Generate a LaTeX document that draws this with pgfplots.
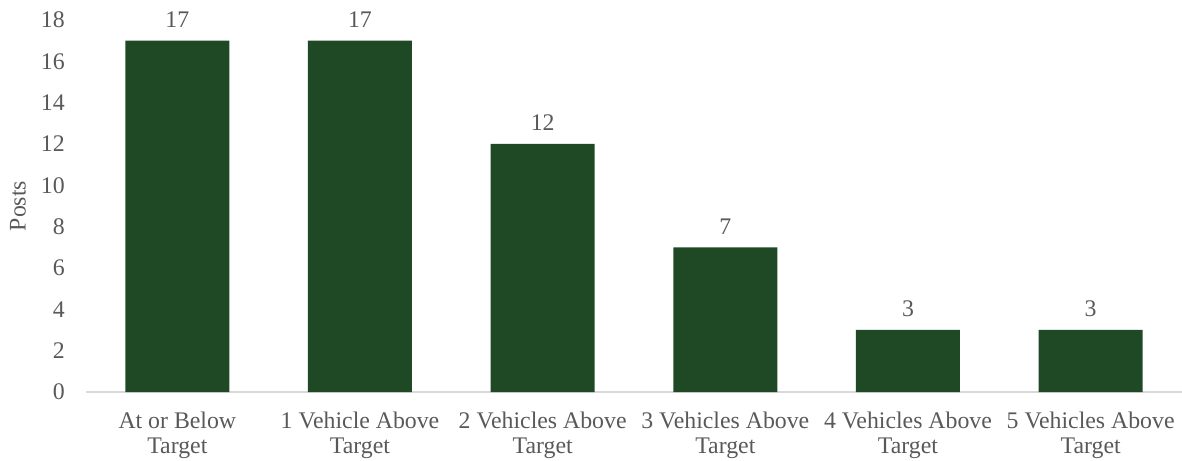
\documentclass[border=0pt]{standalone}
\usepackage{pgfplots}
\pgfplotsset{compat=1.18}
\usepackage{fontspec}
\setmainfont{Liberation Serif}
\definecolor{barc}{HTML}{1F4925}
\definecolor{txt}{HTML}{595959}
\definecolor{axl}{HTML}{D9D9D9}
\begin{document}
\begin{tikzpicture}
\path[use as bounding box] (-86pt,-68pt) rectangle (1096pt,392pt);
\begin{axis}[
  at={(0,0)}, anchor=south west,
  scale only axis, width=1096pt, height=372pt,
  xmin=-0.5, xmax=5.5, ymin=0, ymax=18,
  clip=false,
  axis lines=left,
  x axis line style={-, draw=axl, line width=1.3pt},
  y axis line style={draw=none},
  major tick length=0pt,
  ytick={0,2,...,18},
  xtick=data,
  xticklabels={{At or Below\\Target},{1 Vehicle Above\\Target},{2 Vehicles Above\\Target},{3 Vehicles Above\\Target},{4 Vehicles Above\\Target},{5 Vehicles Above\\Target}},
  /pgf/number format/assume math mode=true,
  ticklabel style={font=\fontsize{23.8}{25}\selectfont, text=txt},
  yticklabel style={anchor=east, inner sep=0pt, xshift=-21pt},
  xticklabel style={anchor=north, inner sep=0pt, yshift=-20pt, align=center},
  ylabel={Posts},
  every axis y label/.style={at={(axis description cs:-0.062,0.5)}, rotate=90, anchor=center, font=\fontsize{23.8}{25}\selectfont, text=txt},
  ybar, bar width=104pt,
  nodes near coords,
  every node near coord/.append style={anchor=south, inner sep=0pt, yshift=13pt, font=\fontsize{23.8}{25}\selectfont, text=txt},
]
\addplot[fill=barc, draw=none] coordinates {(0,17) (1,17) (2,12) (3,7) (4,3) (5,3)};
\end{axis}
\end{tikzpicture}
\end{document}
